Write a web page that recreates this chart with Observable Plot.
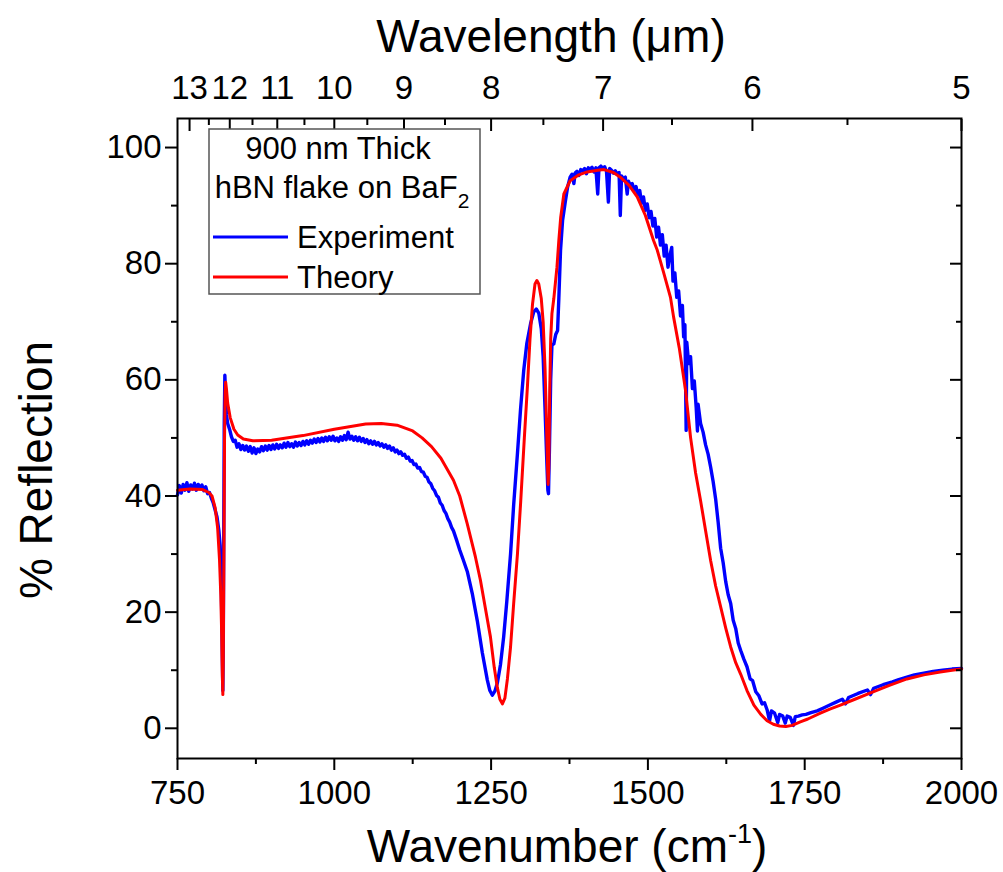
<!DOCTYPE html>
<html><head><meta charset="utf-8">
<script src="https://cdn.jsdelivr.net/npm/d3@7"></script>
<script src="https://cdn.jsdelivr.net/npm/@observablehq/plot@0.6"></script>
<style>body{margin:0;background:#fff;} svg{display:block}</style>
</head><body><div id="chart"></div>
<script>
// Theory curve: [wavenumber (cm^-1), % reflection]
const theory = [
[750,41.0],[770,41.2],[790,41.1],[800,40.6],[805,40.0],[810,38.0],[814,34.5],[817,29],[819,23],[820.5,16],[821.5,9],[822.3,5.8],
[823,12],[824,30],[825,50],[826,58],[826.8,59.6],[828,58.5],[830,56],[834,53.5],[840,51.5],[846,50.5],[855,49.8],[870,49.5],
[900,49.6],[950,50.4],[1000,51.5],[1050,52.4],[1075,52.5],[1100,52.2],[1125,51.2],[1140,50.0],[1155,48.5],[1170,46.5],[1190,42.7],
[1200,40],[1212,35.2],[1225,29.5],[1233,25.5],[1242,20],[1249,15.7],[1255,10.5],[1260,7],[1264,5],[1268,4.2],[1272,5.2],[1276,8.5],
[1281,14],[1286,21.5],[1292,30],[1297,38.7],[1303,50],[1308,59],[1312,67],[1316,73],[1320,76.5],[1323,77.1],[1326,76.5],[1330,74],
[1333,70],[1336,62],[1338,54],[1340,45],[1341,42],[1342,45],[1343.5,58],[1345,67],[1347,71.4],[1350,74],[1355,79.4],[1358,84],
[1361,88],[1366,92],[1376,94.3],[1390,95.3],[1403,95.8],[1420,96.1],[1430,96.2],[1445,95.7],[1456,94.9],[1470,93.5],[1483,91.5],
[1496,88.3],[1509,84],[1515,82.3],[1525,78.5],[1536,74.2],[1541,70.8],[1550,65.5],[1560,58.2],[1568,50.1],[1576,44],[1584,39.2],
[1592,34],[1600,28.9],[1608,24.5],[1616,20.9],[1624,17.3],[1632,14],[1640,11.3],[1648,9.3],[1658,6.5],[1669,4],[1680,2.4],[1690,1.3],
[1700,0.7],[1710,0.4],[1720,0.3],[1730,0.5],[1743,1.1],[1755,1.6],[1775,2.6],[1790,3.3],[1807,4.0],[1830,5.0],[1860,6.3],[1885,7.4],
[1913,8.5],[1940,9.2],[1966,9.7],[1985,10.0],[2000,10.2]
];
// Experiment curve: [wavenumber (cm^-1), % reflection], read point by point (noise included)
const experiment = [
[750,40.2],[753,41.8],[756,40.5],[759,42.0],[762,41.0],[765,42.3],[768,40.8],[771,41.9],[774,41.2],[777,42.2],[780,41.0],[783,42.0],
[786,41.4],[789,41.9],[792,40.9],[795,41.6],[798,40.4],[801,40.6],[804,39.6],[807,38.8],[810,37.6],[813,36.4],[816,34.0],[818,31.5],
[819.5,27],[820.5,20],[821.5,12],[822.3,6.5],[823,15],[823.8,35],[824.5,52],[825.5,60.8],[826.5,58],[828,54],[830,52.5],[833,51.5],
[836,50.2],[839,49.4],[842,49.6],[845,48.4],[848,49.0],[851,48.0],[854,48.7],[857,47.9],[860,48.6],[863,47.7],[866,48.5],[869,47.4],
[872,48.3],[875,47.3],[878,48.1],[881,47.6],[884,48.5],[887,47.8],[890,48.6],[893,47.9],[896,48.7],[899,48.0],[902,48.8],[905,48.1],
[908,48.9],[911,48.2],[914,48.8],[917,48.3],[920,49.1],[923,48.4],[926,49.2],[929,48.5],[932,49.0],[935,48.4],[938,49.3],[941,48.6],
[944,49.2],[947,48.7],[950,49.4],[953,48.8],[956,49.5],[959,48.9],[962,49.6],[965,49.1],[968,49.8],[971,49.2],[974,49.9],[977,49.3],
[980,50.0],[983,49.4],[986,50.1],[989,49.5],[992,50.2],[995,49.6],[998,50.3],[1001,49.5],[1004,50.0],[1007,49.4],[1010,50.2],[1013,49.6],
[1016,50.4],[1019,49.7],[1022,51.0],[1025,49.8],[1028,50.3],[1031,49.6],[1034,50.2],[1037,49.5],[1040,50.1],[1043,49.4],[1046,49.9],
[1049,49.2],[1052,49.7],[1055,49.0],[1058,49.5],[1061,48.9],[1064,49.4],[1067,48.8],[1070,49.2],[1073,48.6],[1076,49.0],[1079,48.4],
[1082,48.8],[1085,48.2],[1088,48.6],[1091,47.9],[1094,48.3],[1097,47.6],[1100,47.9],[1103,47.3],[1106,47.6],[1109,47.0],[1112,47.2],
[1115,46.5],[1118,46.7],[1121,46.0],[1124,46.1],[1127,45.4],[1130,45.5],[1133,44.8],[1136,44.9],[1139,44.2],[1142,44.1],[1145,43.4],
[1148,43.2],[1151,42.4],[1154,42.1],[1157,41.3],[1160,40.9],[1163,40.1],[1166,39.8],[1169,38.8],[1172,38.4],[1175,37.5],[1178,37.0],
[1181,36.1],[1184,35.5],[1187,34.6],[1190,34.0],[1195,32.4],[1200,30.7],[1205,29.2],[1212,27.0],[1220,23.2],[1228,18.5],[1236,13],
[1244,8.3],[1248,6.5],[1252,5.7],[1256,6.4],[1260,7.8],[1265,11],[1270,15.7],[1275,21.8],[1281,30],[1286,38.5],[1292,47.3],[1297,55],
[1302,61.6],[1307,66.3],[1313,69.7],[1318,71.7],[1322,72.2],[1326,71.5],[1330,68.8],[1333,64],[1336,55],[1338.5,47],[1340.5,41],
[1341.5,40.4],[1343,48],[1345,60],[1347,66],[1350,66.2],[1353,67.8],[1356,68.5],[1358,74],[1360.7,82.3],[1364,87.5],[1368.6,90.9],
[1372,93.2],[1376,94.9],[1379,95.4],[1382,93.8],[1384,95.6],[1387,95.9],[1390,95.2],[1393,96.2],[1396,96.0],[1399,96.4],[1402,95.5],
[1405,96.5],[1408,96.3],[1411,96.6],[1414,95.8],[1417,96.5],[1420,92.0],[1422,96.5],[1425,96.8],[1428,96.4],[1431,96.7],[1434,95.9],
[1437,90.6],[1439,96.4],[1442,96.1],[1445,95.6],[1448,96.0],[1451,95.4],[1454,95.7],[1456,88.3],[1458,95.1],[1461,94.6],[1464,94.9],
[1467,92.0],[1469,94.2],[1472,93.5],[1475,93.8],[1478,92.6],[1481,93.3],[1484,91.8],[1487,92.6],[1490,90.4],[1493,91.5],[1496,89.2],
[1499,90.3],[1502,87.9],[1505,89.0],[1508,86.5],[1511,87.8],[1514,84.6],[1517,86.3],[1520,83.2],[1523,85.0],[1526,81.3],[1529,83.2],
[1532,79.4],[1535,81.4],[1538,82.8],[1540,77.0],[1543,78.4],[1546,74.2],[1549,75.3],[1552,71.0],[1555,72.8],[1557,67.4],[1559,69.5],
[1561,51.3],[1562,66.5],[1565,62.8],[1568,64.0],[1571,58.5],[1574,59.8],[1577,55.2],[1579,51.2],[1580,55.8],[1584,52.5],[1588,51.0],
[1592,48.8],[1596,47.2],[1600,45],[1604,42.5],[1608,39.5],[1612,35.5],[1616,31],[1620,28.5],[1624,25.3],[1628,23.0],[1632,21.5],
[1636,18.6],[1640,17.2],[1644,14.7],[1648,13.4],[1653,11.9],[1658,10.6],[1663,8.5],[1667,8.2],[1672,6.3],[1677,5.6],[1682,4.2],
[1686,4.4],[1690,3.2],[1694,1.3],[1697,3.0],[1702,2.6],[1707,1.0],[1710,2.4],[1715,2.1],[1719,0.9],[1722,2.1],[1727,1.9],[1732,0.5],
[1735,2.0],[1740,2.1],[1746,2.3],[1752,2.4],[1760,2.7],[1770,3.0],[1780,3.5],[1790,4.0],[1800,4.5],[1810,5.0],[1815,4.2],[1820,5.3],
[1835,6.0],[1850,6.6],[1855,5.8],[1860,6.9],[1875,7.5],[1890,8.0],[1900,8.4],[1913,8.8],[1925,9.2],[1940,9.5],[1955,9.8],[1970,10.0],
[1985,10.2],[2000,10.3]
];
const wavenumberMajor = [750, 1000, 1250, 1500, 1750, 2000];
const wavenumberMinor = [875, 1125, 1375, 1625, 1875];
const reflectionMajor = [0, 20, 40, 60, 80, 100];
const reflectionMinor = [10, 30, 50, 70, 90];
const wavelengthMajor = [13, 12, 11, 10, 9, 8, 7, 6, 5];
const wavelengthMinor = [12.5, 11.5, 10.5, 9.5, 8.5, 7.5, 6.5, 5.5];
const legendTitle = ["900 nm Thick", "hBN flake on BaF", "2"];
const seriesNames = ["Experiment", "Theory"];
const seriesColors = ["#0000ff", "#ff0000"];

const toWn = l => 10000 / l;
const font = "'Liberation Sans', Arial, Helvetica, sans-serif";
const blank = () => "";

const chart = Plot.plot({
  width: 1003, height: 872,
  marginLeft: 177, marginRight: 42, marginTop: 118, marginBottom: 114,
  x: {domain: [750, 2000]},
  y: {domain: [-5.2, 105]},
  style: {fontFamily: font, fontSize: "33px", color: "#000", background: "#fff", overflow: "visible"},
  marks: [
    Plot.line(experiment, {x: d => d[0], y: d => d[1], stroke: seriesColors[0], strokeWidth: 3.4}),
    Plot.line(theory, {x: d => d[0], y: d => d[1], stroke: seriesColors[1], strokeWidth: 3}),
    Plot.frame({stroke: "#000", strokeWidth: 2}),
    Plot.axisX({ticks: wavenumberMajor, anchor: "bottom", tickSize: 12, tickPadding: 10, strokeWidth: 2, label: null, tickFormat: d => String(d)}),
    Plot.axisX({ticks: wavenumberMinor, anchor: "bottom", tickSize: 6, strokeWidth: 2, label: null, tickFormat: blank}),
    Plot.axisX({ticks: wavelengthMajor.map(toWn), anchor: "top", tickSize: -12, strokeWidth: 2, label: null, tickFormat: blank}),
    Plot.axisX({ticks: wavelengthMinor.map(toWn), anchor: "top", tickSize: -6, strokeWidth: 2, label: null, tickFormat: blank}),
    Plot.axisX({ticks: wavelengthMajor.map(toWn), anchor: "top", tickSize: 0, tickPadding: 20, label: null, tickFormat: d => String(Math.round(10000 / d))}),
    Plot.axisY({ticks: reflectionMajor, anchor: "left", tickSize: 12, tickPadding: 4, strokeWidth: 2, label: null, tickFormat: d => String(d)}),
    Plot.axisY({ticks: reflectionMinor, anchor: "left", tickSize: 6, strokeWidth: 2, label: null, tickFormat: blank}),
    Plot.axisY({ticks: reflectionMajor, anchor: "right", tickSize: -12, strokeWidth: 2, label: null, tickFormat: blank}),
    Plot.axisY({ticks: reflectionMinor, anchor: "right", tickSize: -6, strokeWidth: 2, label: null, tickFormat: blank})
  ]
});
document.getElementById("chart").appendChild(chart);

const svg = d3.select(chart);
// Axis titles
const titles = svg.append("g").attr("font-family", font).attr("font-size", 46).attr("fill", "#000").attr("text-anchor", "middle");
titles.append("text").attr("x", 551).attr("y", 52).text("Wavelength (μm)");
const xt = titles.append("text").attr("x", 567).attr("y", 862);
xt.append("tspan").text("Wavenumber (cm");
xt.append("tspan").attr("font-size", 27).attr("dy", -19).text("-1");
xt.append("tspan").attr("dy", 19).text(")");
titles.append("text").attr("transform", "translate(52,470) rotate(-90)").text("% Reflection");

// Legend
const lg = svg.append("g").attr("font-family", font).attr("font-size", 31).attr("fill", "#000");
lg.append("rect").attr("x", 209).attr("y", 129).attr("width", 271).attr("height", 165)
  .attr("fill", "#fff").attr("stroke", "#555").attr("stroke-width", 1.5);
lg.append("text").attr("x", 338).attr("y", 159).attr("text-anchor", "middle").text(legendTitle[0]);
const l2 = lg.append("text").attr("x", 342).attr("y", 198).attr("text-anchor", "middle");
l2.append("tspan").text(legendTitle[1]);
l2.append("tspan").attr("font-size", 21).attr("dy", 10).text(legendTitle[2]);
const itemY = [237, 277];
seriesNames.forEach((name, i) => {
  lg.append("line").attr("x1", 213).attr("x2", 288).attr("y1", itemY[i]).attr("y2", itemY[i])
    .attr("stroke", seriesColors[i]).attr("stroke-width", 3);
  lg.append("text").attr("x", 297).attr("y", itemY[i] + 11).attr("text-anchor", "start").text(name);
});
</script>
</body></html>
